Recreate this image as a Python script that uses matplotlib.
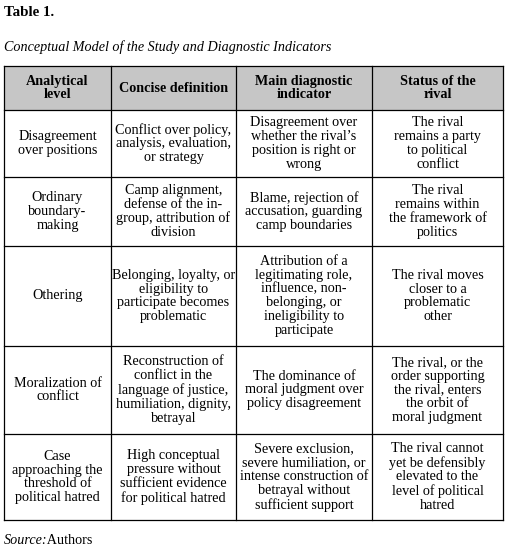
import matplotlib
matplotlib.use("Agg")
import matplotlib.pyplot as plt
from matplotlib.patches import Rectangle

title = "Table 1."
subtitle = "Conceptual Model of the Study and Diagnostic Indicators"
headers = ["Analytical\nlevel", "Concise definition", "Main diagnostic\nindicator", "Status of the\nrival"]
rows = [
    ["Disagreement\nover positions", "Conflict over policy,\nanalysis, evaluation,\nor strategy",
     "Disagreement over\nwhether the rival\u2019s\nposition is right or\nwrong", "The rival\nremains a party\nto political\nconflict"],
    ["Ordinary\nboundary-\nmaking", "Camp alignment,\ndefense of the in-\ngroup, attribution of\ndivision",
     "Blame, rejection of\naccusation, guarding\ncamp boundaries", "The rival\nremains within\nthe framework of\npolitics"],
    ["Othering", "Belonging, loyalty, or\neligibility to\nparticipate becomes\nproblematic",
     "Attribution of a\nlegitimating role,\ninfluence, non-\nbelonging, or\nineligibility to\nparticipate", "The rival moves\ncloser to a\nproblematic\nother"],
    ["Moralization of\nconflict", "Reconstruction of\nconflict in the\nlanguage of justice,\nhumiliation, dignity,\nbetrayal",
     "The dominance of\nmoral judgment over\npolicy disagreement", "The rival, or the\norder supporting\nthe rival, enters\nthe orbit of\nmoral judgment"],
    ["Case\napproaching the\nthreshold of\npolitical hatred", "High conceptual\npressure without\nsufficient evidence\nfor political hatred",
     "Severe exclusion,\nsevere humiliation, or\nintense construction of\nbetrayal without\nsufficient support", "The rival cannot\nyet be defensibly\nelevated to the\nlevel of political\nhatred"],
]
source_label = "Source:"
source_text = " Authors"

col_x = [4, 111, 236, 372, 503]
row_y = [66, 110, 177, 246, 346, 434, 520]

fig = plt.figure(figsize=(5.08, 5.54), dpi=100)
ax = fig.add_axes([0, 0, 1, 1])
ax.set_xlim(0, 508)
ax.set_ylim(554, 0)
ax.axis("off")
plt.rcParams['font.family'] = ['Liberation Serif', 'DejaVu Serif']
fs = 10.2
ls = 1.08

ax.text(4, 12, title, fontsize=10.8, fontweight="bold", va="center", ha="left")
ax.text(4, 47, subtitle, fontsize=fs, fontstyle="italic", va="center", ha="left")

ax.add_patch(Rectangle((col_x[0], row_y[0]), col_x[-1]-col_x[0], row_y[1]-row_y[0],
                       facecolor="#c6c6c6", edgecolor="none"))
for x in col_x:
    ax.plot([x, x], [row_y[0], row_y[-1]], color="black", lw=0.9)
for y in row_y:
    ax.plot([col_x[0], col_x[-1]], [y, y], color="black", lw=0.9)

for j, h in enumerate(headers):
    ax.text((col_x[j]+col_x[j+1])/2, (row_y[0]+row_y[1])/2, h, fontsize=fs, fontweight="bold",
            ha="center", va="center", multialignment="center", linespacing=ls)
for i, r in enumerate(rows):
    for j, c in enumerate(r):
        ax.text((col_x[j]+col_x[j+1])/2, (row_y[i+1]+row_y[i+2])/2, c, fontsize=fs,
                ha="center", va="center", multialignment="center", linespacing=ls)

ax.text(4, 540, source_label, fontsize=fs, fontstyle="italic", va="center", ha="left")
ax.text(44, 540, source_text, fontsize=fs, va="center", ha="left")

fig.savefig("out.png", dpi=100)
